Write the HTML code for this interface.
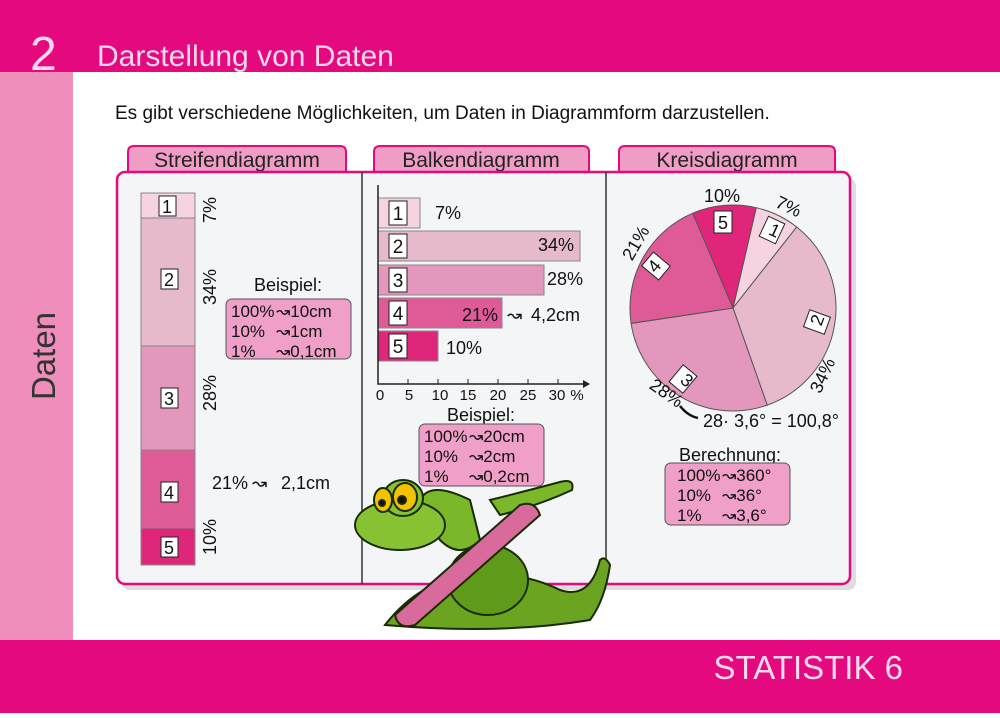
<!DOCTYPE html>
<html><head><meta charset="utf-8"><style>
body{margin:0;width:1000px;height:713px;overflow:hidden;background:#fff;font-family:"Liberation Sans",sans-serif}
svg text{font-family:"Liberation Sans",sans-serif}
</style></head><body>
<svg width="1000" height="713" viewBox="0 0 1000 713" xmlns="http://www.w3.org/2000/svg">
<rect x="0" y="0" width="1000" height="72" fill="#e5097f"/>
<rect x="0" y="72" width="73" height="568" fill="#ef8dbb"/>
<rect x="0" y="640" width="1000" height="73" fill="#e5097f"/>
<text x="30" y="70" font-size="48" fill="#fbd9ea">2</text>
<text x="97" y="66" font-size="30" fill="#fbd9ea">Darstellung von Daten</text>
<text x="903" y="679" font-size="33" fill="#fbd9ea" text-anchor="end">STATISTIK 6</text>
<text transform="translate(55,356) rotate(-90)" font-size="33" fill="#333" text-anchor="middle">Daten</text>
<text x="115" y="119" font-size="19" fill="#111">Es gibt verschiedene Möglichkeiten, um Daten in Diagrammform darzustellen.</text>
<g fill="#ef9dc5" stroke="#e5097f" stroke-width="2">
<path d="M128,174 V152 Q128,146 134,146 H340 Q346,146 346,152 V174Z"/>
<path d="M374,174 V152 Q374,146 380,146 H583 Q589,146 589,152 V174Z"/>
<path d="M619,174 V152 Q619,146 625,146 H829 Q835,146 835,152 V174Z"/>
</g>
<text x="237" y="167" font-size="21" fill="#222" text-anchor="middle">Streifendiagramm</text>
<text x="481" y="167" font-size="21" fill="#222" text-anchor="middle">Balkendiagramm</text>
<text x="727" y="167" font-size="21" fill="#222" text-anchor="middle">Kreisdiagramm</text>
<rect x="119" y="175" width="734" height="412" rx="8" fill="#bbb" opacity=".5" transform="translate(3,3)"/>
<rect x="117" y="172" width="733" height="412" rx="8" fill="#f4f5f7" stroke="#e5097f" stroke-width="2.5"/>
<line x1="362" y1="172" x2="362" y2="584" stroke="#333" stroke-width="1.5"/>
<line x1="606" y1="172" x2="606" y2="584" stroke="#333" stroke-width="1.5"/>
<g stroke="#888" stroke-width="1">
<rect x="141" y="193" width="54" height="25" fill="#f5d3e1"/>
<rect x="141" y="218" width="54" height="128" fill="#e6b9cc"/>
<rect x="141" y="346" width="54" height="104" fill="#e397bc"/>
<rect x="141" y="450" width="54" height="78" fill="#de5b97"/>
<rect x="141" y="528" width="54" height="37" fill="#e0267b"/>
</g>
<g fill="#fff" stroke="#222" stroke-width="1">
<rect x="159" y="196" width="17" height="20"/><rect x="161" y="269" width="17" height="20"/>
<rect x="161" y="388" width="17" height="20"/><rect x="161" y="482" width="17" height="20"/><rect x="161" y="537" width="17" height="20"/>
</g>
<g font-size="18" fill="#111" text-anchor="middle">
<text x="167" y="213">1</text><text x="169" y="286">2</text><text x="169" y="405">3</text><text x="169" y="499">4</text><text x="169" y="554">5</text>
</g>
<g font-size="18" fill="#111" text-anchor="middle">
<text transform="translate(216,210) rotate(-90)">7%</text>
<text transform="translate(216,287) rotate(-90)">34%</text>
<text transform="translate(216,393) rotate(-90)">28%</text>
<text transform="translate(216,537) rotate(-90)">10%</text>
</g>
<g font-size="18" fill="#111"><text x="212" y="489">21%</text><text x="252" y="489">↝</text><text x="281" y="489">2,1cm</text></g>
<text x="288" y="291" font-size="18" fill="#111" text-anchor="middle">Beispiel:</text>
<rect x="226" y="299" width="125" height="60" rx="6" fill="#f0a0c8" stroke="#555"/>
<g font-size="17" fill="#111"><text x="231" y="317">100%</text><text x="231" y="337">10%</text><text x="231" y="357">1%</text>
<text x="276" y="317">↝10cm</text><text x="276" y="337">↝1cm</text><text x="276" y="357">↝0,1cm</text></g>
<g stroke="#888" stroke-width="1">
<rect x="378" y="198" width="42" height="30" fill="#f5d3e1"/>
<rect x="378" y="231" width="202" height="30" fill="#e6b9cc"/>
<rect x="378" y="265" width="166" height="30" fill="#e397bc"/>
<rect x="378" y="298" width="124" height="30" fill="#de5b97"/>
<rect x="378" y="331" width="60" height="30" fill="#e0267b"/>
</g>
<g fill="#fff" stroke="#222"><rect x="389" y="201" width="18" height="24"/><rect x="389" y="234" width="18" height="24"/><rect x="389" y="268" width="18" height="24"/><rect x="389" y="301" width="18" height="24"/><rect x="389" y="334" width="18" height="24"/></g>
<g font-size="19" fill="#111" text-anchor="middle"><text x="398" y="220">1</text><text x="398" y="253">2</text><text x="398" y="287">3</text><text x="398" y="320">4</text><text x="398" y="353">5</text></g>
<g font-size="18" fill="#111"><text x="435" y="219">7%</text><text x="538" y="251">34%</text><text x="547" y="285">28%</text><text x="462" y="321">21%</text><text x="446" y="354">10%</text><text x="507" y="321">↝</text><text x="531" y="321">4,2cm</text></g>
<path d="M378,185 V384 H583" fill="none" stroke="#222" stroke-width="1.5"/>
<path d="M583,380 L590,384 L583,388Z" fill="#222"/>
<g stroke="#222"><line x1="408" y1="379" x2="408" y2="384"/><line x1="438" y1="379" x2="438" y2="384"/><line x1="468" y1="379" x2="468" y2="384"/><line x1="498" y1="379" x2="498" y2="384"/><line x1="528" y1="379" x2="528" y2="384"/><line x1="558" y1="379" x2="558" y2="384"/></g>
<g font-size="15" fill="#111" text-anchor="middle"><text x="380" y="400">0</text><text x="409" y="400">5</text><text x="440" y="400">10</text><text x="468" y="400">15</text><text x="498" y="400">20</text><text x="528" y="400">25</text><text x="557" y="400">30</text><text x="577" y="400">%</text></g>
<text x="481" y="421" font-size="18" fill="#111" text-anchor="middle">Beispiel:</text>
<rect x="419" y="424" width="125" height="62" rx="6" fill="#f0a0c8" stroke="#555"/>
<g font-size="17" fill="#111"><text x="424" y="442">100%</text><text x="424" y="462">10%</text><text x="424" y="482">1%</text>
<text x="469" y="442">↝20cm</text><text x="469" y="462">↝2cm</text><text x="469" y="482">↝0,2cm</text></g>
<g stroke="#555" stroke-width="1">
<path d="M733,308 L756.2,207.7 A103,103 0 0 1 796.7,227Z" fill="#f5d3e1"/>
<path d="M733,308 L796.7,227 A103,103 0 0 1 767.2,405.1Z" fill="#e6b9cc"/>
<path d="M733,308 L767.2,405.1 A103,103 0 0 1 631.1,323.4Z" fill="#e397bc"/>
<path d="M733,308 L631.1,323.4 A103,103 0 0 1 692.8,213.2Z" fill="#de5b97"/>
<path d="M733,308 L692.8,213.2 A103,103 0 0 1 756.2,207.7Z" fill="#e0267b"/>
</g>
<g fill="#fff" stroke="#222">
<rect x="714" y="211" width="18" height="22"/>
<rect x="-9" y="-11" width="18" height="22" transform="translate(772,230) rotate(25)"/>
<rect x="-9" y="-11" width="18" height="22" transform="translate(817,322) rotate(-70)"/>
<rect x="-9" y="-11" width="18" height="22" transform="translate(683,379) rotate(40)"/>
<rect x="-9" y="-11" width="18" height="22" transform="translate(656,266) rotate(-50)"/>
</g>
<g font-size="18" fill="#111" text-anchor="middle">
<text x="723" y="229">5</text>
<text transform="translate(772,236) rotate(25)">1</text>
<text transform="translate(823,322) rotate(-70)">2</text>
<text transform="translate(683,385) rotate(40)">3</text>
<text transform="translate(659,270) rotate(-50)">4</text>
<text x="722" y="202">10%</text>
<text transform="translate(786,212) rotate(25)">7%</text>
<text transform="translate(828,378) rotate(-65)">34%</text>
<text transform="translate(663,398) rotate(35)">28%</text>
<text transform="translate(641,246) rotate(-60)">21%</text>
</g>
<text x="703" y="427" font-size="18" fill="#111">28· 3,6° = 100,8°</text>
<path d="M680,406 Q688,416 698,418" fill="none" stroke="#111" stroke-width="2.5"/>
<text x="730" y="461" font-size="18" fill="#111" text-anchor="middle">Berechnung:</text>
<rect x="665" y="463" width="125" height="62" rx="6" fill="#f0a0c8" stroke="#555"/>
<g font-size="17" fill="#111"><text x="677" y="481">100%</text><text x="677" y="501">10%</text><text x="677" y="521">1%</text>
<text x="722" y="481">↝360°</text><text x="722" y="501">↝36°</text><text x="722" y="521">↝3,6°</text></g>
<g stroke="#1a2a05" stroke-width="2">
<path d="M385,625 Q420,580 470,575 Q520,570 560,590 Q590,600 600,560 Q605,555 610,565 Q605,600 590,620 Q500,635 385,625Z" fill="#6aa420"/>
<ellipse cx="488" cy="580" rx="40" ry="35" fill="#5f9a1a"/>
<path d="M420,500 Q430,480 470,500 L480,540 Q460,560 440,540Z" fill="#7ab82a"/>
<ellipse cx="400" cy="525" rx="45" ry="25" fill="#86c232"/>
<ellipse cx="403" cy="498" rx="20" ry="18" fill="#86c232"/>
<ellipse cx="405" cy="497" rx="12" ry="14" fill="#f2c200"/>
<ellipse cx="383" cy="500" rx="9" ry="12" fill="#f2c200"/>
<circle cx="402" cy="500" r="4" fill="#111"/><circle cx="382" cy="503" r="3" fill="#111"/>
<path d="M490,500 Q530,490 560,482 Q575,478 572,490 Q540,505 500,515Z" fill="#7ab82a"/>
<path d="M395,615 L520,505 Q535,500 540,515 L415,625 Q398,630 395,615Z" fill="#d96a9c"/>
</g>
</svg>
</body></html>
